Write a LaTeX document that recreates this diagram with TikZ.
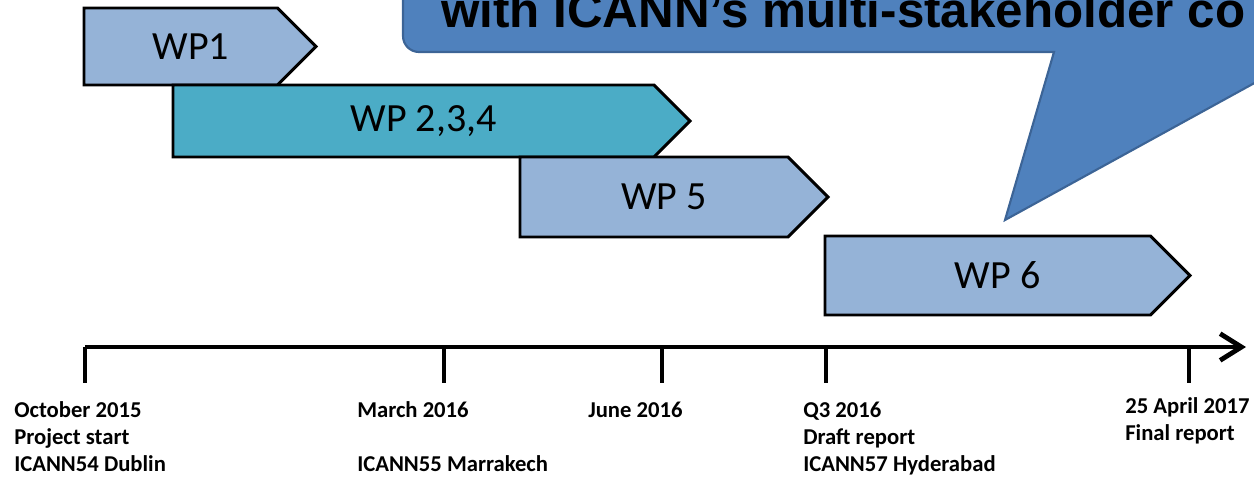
\documentclass[tikz,border=0pt]{standalone}
\usepackage{fontspec}
\setmainfont{Carlito}
\newfontfamily\calloutfont{Liberation Sans}
\usepackage{tikz}
\usetikzlibrary{shapes.symbols}
\usetikzlibrary{arrows.meta}
\tikzset{>={Straight Barb[length=16pt,width=20pt]}}
\definecolor{wpBlue}{HTML}{95B3D7}
\definecolor{wpTeal}{HTML}{4BACC6}
\definecolor{calloutFill}{HTML}{4F81BD}
\definecolor{calloutLine}{HTML}{3C6496}

\begin{document}
\begin{tikzpicture}[
    x = 0.75pt, y = -0.75pt,
    wp/.style = {draw, line width=2.2pt, shape=signal, signal to=east,
        signal pointer angle=90, anchor=north west, inner sep=0pt,
        outer sep=0pt, font=\fontsize{30}{36}\selectfont,
        execute at begin node={\hspace*{15pt}}},
    callout/.style = {fill=calloutFill, draw=calloutLine, line width=1.6pt},
    axis/.style = {line width=3.6pt},
    date/.style = {anchor=base west, inner sep=0pt, align=left,
        font=\fontsize{17}{20.25}\selectfont\bfseries}
  ]
  \clip (0,0) rectangle (1254,476);

  % speech bubble, cut by the page
  \draw[callout] (1300,58) -- (1005,220) -- (1054,52)
    [rounded corners=12pt] -- (403,52) -- (403,-60)
    [sharp corners] -- (1300,-60) -- cycle;
  \node[anchor=base west, inner sep=0pt,
    font=\calloutfont\fontsize{37}{40}\bfseries\selectfont] (claim)
    at (441,27) {with ICANN’s multi-stakeholder co};

  % work packages
  \node[wp, fill=wpBlue, minimum width=174pt, minimum height=57.75pt]
    (wp1) at (84,8) {WP1};
  \node[wp, fill=wpTeal, minimum width=387.75pt, minimum height=54pt]
    (wp234) at (173,85) {WP 2,3,4};
  \node[wp, fill=wpBlue, minimum width=231pt, minimum height=60pt]
    (wp5) at (520,157) {WP 5};
  \node[wp, fill=wpBlue, minimum width=273.75pt, minimum height=59.25pt]
    (wp6) at (825,236) {WP 6};

  % time line
  \coordinate (axisStart) at (85,347);
  \coordinate (axisEnd) at (1246,347);
  \draw[axis, ->] (axisStart) -- (axisEnd);
  \foreach \x [count=\i] in {85, 444, 662, 826, 1189} {
    \coordinate (tick\i) at (\x,347);
    \draw[axis] (tick\i) -- ++(0,36);
  }

  % dates (base = last line)
  \node[date] (oct) at (14,471) {October 2015\\Project start\\ICANN54 Dublin};
  \node[date] (mar) at (357,471) {March 2016\\\mbox{}\\ICANN55 Marrakech};
  \node[date] (jun) at (588,417) {June 2016};
  \node[date] (q3) at (803,471) {Q3 2016\\Draft report\\ICANN57 Hyderabad};
  \node[date] (apr) at (1125,440) {25 April 2017\\Final report};
\end{tikzpicture}
\end{document}
